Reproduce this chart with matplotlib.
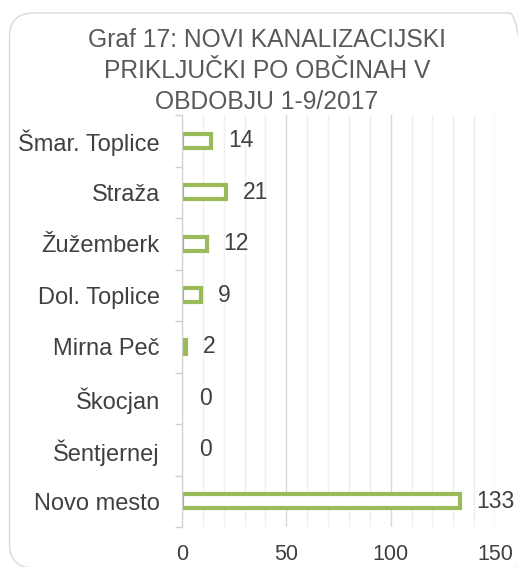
import matplotlib
matplotlib.use("Agg")
import matplotlib.pyplot as plt
from matplotlib.patches import FancyBboxPatch
from matplotlib.ticker import MultipleLocator, FixedLocator
from matplotlib.transforms import IdentityTransform
import numpy as np

categories = ["Šmar. Toplice", "Straža", "Žužemberk", "Dol. Toplice",
              "Mirna Peč", "Škocjan", "Šentjernej", "Novo mesto"]
values = [14, 21, 12, 9, 2, 0, 0, 133]
xticks = [0, 50, 100, 150]
title = "Graf 17: NOVI KANALIZACIJSKI\nPRIKLJUČKI PO OBČINAH V\nOBDOBJU 1-9/2017"

plt.rcParams['font.family'] = ['Liberation Sans', 'DejaVu Sans']
text_color = "#404040"
green = "#9BBB59"
W, H = 518, 567

fig = plt.figure(figsize=(W / 100, H / 100), dpi=100)
frame = FancyBboxPatch((9.5, H - 568), 524, 555,
                       boxstyle="round,pad=0,rounding_size=24",
                       transform=IdentityTransform(), facecolor="none",
                       edgecolor="#D9D9D9", linewidth=1.0, zorder=-1)
fig.patches.append(frame)

ax = fig.add_axes([182 / W, 1 - 527 / H, (495 - 182) / W, (527 - 115) / H])
ax.set_facecolor("none")
n = len(categories)
y = np.arange(n)[::-1]
lws = [3.0 if v > 0 else 0 for v in values]
ax.barh(y, values, height=0.28, facecolor="white", edgecolor=green,
        linewidth=lws, zorder=3)
for yi, v in zip(y, values):
    ax.annotate(str(v), (v, yi), xytext=(12, 0), textcoords="offset points",
                va="center", ha="left", fontsize=16.5, color=text_color)

ax.set_xlim(0, 150)
ax.set_ylim(-0.5, n - 0.5)
ax.set_yticks(y)
ax.set_yticklabels(categories, fontsize=17, color=text_color)
ax.yaxis.set_minor_locator(FixedLocator(np.arange(-0.5, n, 1.0)))
ax.tick_params(axis="y", which="major", length=0, pad=16)
ax.tick_params(axis="y", which="minor", length=5, color="#D0D0D0", width=1)
ax.set_xticks(xticks)
ax.set_xticklabels([str(t) for t in xticks], fontsize=15.5, color=text_color)
ax.xaxis.set_minor_locator(MultipleLocator(10))
ax.tick_params(axis="x", which="both", length=0, pad=12)
ax.grid(axis="x", which="minor", color="#EFEFEF", linewidth=1, zorder=0)
ax.grid(axis="x", which="major", color="#D9D9D9", linewidth=1, zorder=0)
for s in ["top", "right", "bottom"]:
    ax.spines[s].set_visible(False)
ax.spines["left"].set_color("#D0D0D0")
ax.spines["left"].set_zorder(4)

fig.text(267 / W, 1 - 28 / H, title, ha="center", va="top", fontsize=17.75,
         color="#595959", linespacing=1.36)

fig.savefig("out.png", dpi=100)
